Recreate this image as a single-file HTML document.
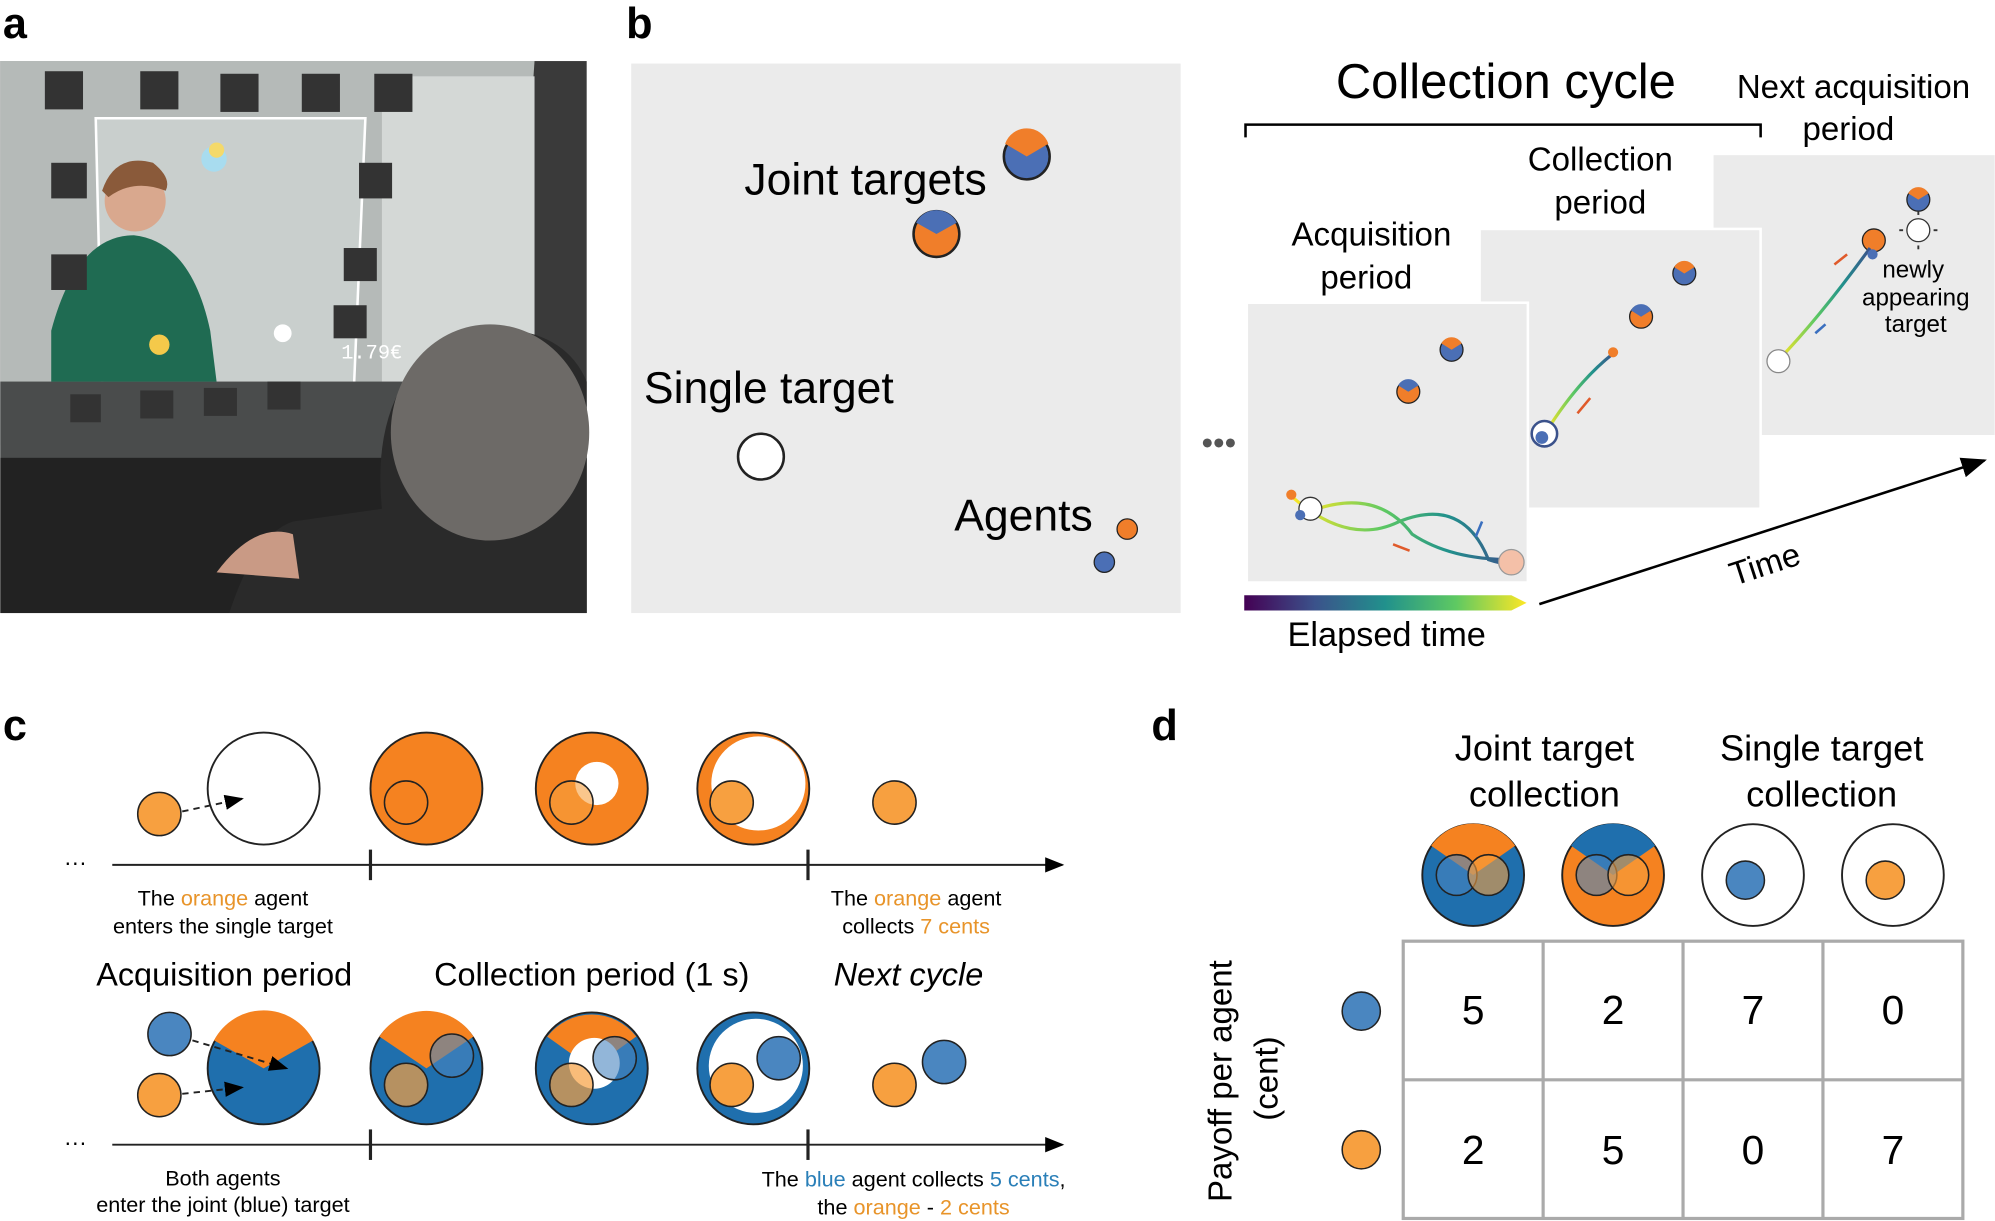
<!DOCTYPE html>
<html><head><meta charset="utf-8"><style>html,body{margin:0;padding:0;background:#fff}svg{display:block}</style></head><body>
<svg width="1995" height="1221" viewBox="0 0 1568 960" xmlns="http://www.w3.org/2000/svg" font-family="Liberation Sans, Arial, sans-serif">
<defs>
<linearGradient id="vir" x1="0" x2="1"><stop offset="0" stop-color="#440154"/><stop offset="0.25" stop-color="#3b528b"/><stop offset="0.5" stop-color="#21918c"/><stop offset="0.75" stop-color="#5ec962"/><stop offset="1" stop-color="#fde725"/></linearGradient>
<linearGradient id="trail" x1="0" x2="1"><stop offset="0" stop-color="#fde725"/><stop offset="0.4" stop-color="#5ec962"/><stop offset="0.7" stop-color="#21918c"/><stop offset="1" stop-color="#3b528b"/></linearGradient>
<marker id="ah" markerWidth="10" markerHeight="8" refX="9" refY="4" orient="auto"><path d="M0,0 L10,4 L0,8 z" fill="#000"/></marker>
</defs>
<g font-weight="bold" font-size="34"><text x="2" y="30">a</text><text x="492" y="30">b</text><text x="2" y="582">c</text><text x="905" y="582">d</text></g>

<!-- panel a photo approx -->
<rect x="0" y="48" width="461" height="434" fill="#3a3a3a"/>
<polygon points="0,48 420,48 400,340 0,350" fill="#b5bab8"/>
<rect x="300" y="60" width="120" height="280" fill="#d4d8d6"/>
<polygon points="75,93 287,93 278,305 80,305" fill="#c9cfcd" stroke="#fff" stroke-width="2"/>
<rect x="0" y="300" width="330" height="60" fill="#4a4c4c"/>
<path d="M40,260 Q60,185 105,185 Q150,190 165,260 L170,300 L40,300 z" fill="#1f6b52"/>
<circle cx="106" cy="158" r="24" fill="#d9a88e"/>
<path d="M80,150 Q90,120 120,128 Q135,140 130,150 Q105,140 85,155z" fill="#8a5a3a"/>
<rect x="0" y="360" width="461" height="122" fill="#222"/>
<path d="M180,482 Q200,420 230,410 L300,400 Q290,300 360,260 Q440,250 461,300 L461,482 z" fill="#2a2a2a"/>
<ellipse cx="385" cy="340" rx="78" ry="85" fill="#6d6a67"/>
<path d="M170,450 Q200,410 230,420 L235,455 Z" fill="#c99a85"/>
<circle cx="168" cy="125" r="10" fill="#a8dcef"/><circle cx="170" cy="118" r="6" fill="#f4d96a"/>
<circle cx="125" cy="271" r="8" fill="#f4c94a"/><circle cx="222" cy="262" r="7" fill="#fff"/>
<text x="268" y="282" font-family="Liberation Mono, monospace" font-size="16" fill="#fff">1.79€</text>
<g fill="#333"><rect x="35" y="56" width="30" height="30"/><rect x="110" y="56" width="30" height="30"/><rect x="173" y="58" width="30" height="30"/><rect x="237" y="58" width="30" height="30"/><rect x="294" y="58" width="30" height="30"/><rect x="40" y="128" width="28" height="28"/><rect x="40" y="200" width="28" height="28"/><rect x="282" y="128" width="26" height="28"/><rect x="270" y="195" width="26" height="26"/><rect x="262" y="240" width="26" height="26"/><rect x="55" y="310" width="24" height="22"/><rect x="110" y="307" width="26" height="22"/><rect x="160" y="305" width="26" height="22"/><rect x="210" y="300" width="26" height="22"/></g>

<!-- panel b left -->
<rect x="496" y="50" width="432" height="432" fill="#ebebeb"/>
<g font-size="35"><text x="585" y="153">Joint targets</text><text x="506" y="317">Single target</text><text x="750" y="417">Agents</text></g>
<circle cx="807" cy="123" r="18" fill="#4b6fb5" stroke="#222" stroke-width="2"/><path d="M790,113 L807,123 L824,113 A18,18 0 0 0 790,113z" fill="#f07e2a"/>
<circle cx="736" cy="184" r="18" fill="#f07e2a" stroke="#222" stroke-width="2"/><path d="M720,175 L736,184 L752,175 A18,18 0 0 0 720,175z" fill="#4b6fb5"/>
<circle cx="598" cy="359" r="18" fill="#fff" stroke="#222" stroke-width="2"/>
<circle cx="886" cy="416" r="8" fill="#f07e2a" stroke="#222" stroke-width="1"/><circle cx="868" cy="442" r="8" fill="#4b6fb5" stroke="#222" stroke-width="1"/>

<!-- panel b right -->
<text x="1050" y="77" font-size="38.5">Collection cycle</text>
<path d="M979,108 V98 H1384 V108" fill="none" stroke="#000" stroke-width="2"/>
<text x="1457" y="77" font-size="26" text-anchor="middle">Next acquisition</text><text x="1453" y="110" font-size="26" text-anchor="middle">period</text>
<text x="1258" y="134" font-size="26" text-anchor="middle">Collection</text><text x="1258" y="168" font-size="26" text-anchor="middle">period</text>
<text x="1078" y="193" font-size="26" text-anchor="middle">Acquisition</text><text x="1074" y="227" font-size="26" text-anchor="middle">period</text>
<text x="958" y="357" font-size="26" text-anchor="middle" fill="#555">•••</text>
<rect x="1347" y="122" width="221" height="220" fill="#ebebeb"/>
<rect x="1163" y="180" width="221" height="220" fill="#ebebeb" stroke="#fff" stroke-width="2"/>
<rect x="980" y="238" width="221" height="220" fill="#ebebeb" stroke="#fff" stroke-width="2"/>
<circle cx="1141" cy="275" r="9" fill="#4b6fb5" stroke="#222"/><path d="M1133,270 L1141,275 L1149,270 A9,9 0 0 0 1133,270z" fill="#f07e2a"/>
<circle cx="1107" cy="308" r="9" fill="#f07e2a" stroke="#222"/><path d="M1099,303 L1107,308 L1115,303 A9,9 0 0 0 1099,303z" fill="#4b6fb5"/>
<path d="M1015,390 Q1060,430 1100,410 Q1150,390 1170,440 Q1185,445 1190,442" fill="none" stroke="url(#trail)" stroke-width="2.5"/>
<path d="M1022,405 Q1080,380 1110,420 Q1140,440 1188,440" fill="none" stroke="url(#trail)" stroke-width="2.5"/>
<circle cx="1188" cy="442" r="10" fill="#f4c0a8" stroke="#999"/>
<circle cx="1030" cy="400" r="9" fill="#fff" stroke="#333"/>
<circle cx="1015" cy="389" r="4" fill="#f07e2a"/><circle cx="1022" cy="405" r="4" fill="#4b6fb5"/>
<path d="M1108,433 L1095,428" stroke="#e05a2a" stroke-width="2"/><path d="M1160,422 L1165,410" stroke="#3a6fbf" stroke-width="2"/>
<circle cx="1324" cy="215" r="9" fill="#4b6fb5" stroke="#222"/><path d="M1316,210 L1324,215 L1332,210 A9,9 0 0 0 1316,210z" fill="#f07e2a"/>
<circle cx="1290" cy="249" r="9" fill="#f07e2a" stroke="#222"/><path d="M1282,244 L1290,249 L1298,244 A9,9 0 0 0 1282,244z" fill="#4b6fb5"/>
<path d="M1215,340 Q1240,300 1268,278" fill="none" stroke="url(#trail)" stroke-width="2.5"/>
<circle cx="1268" cy="277" r="4" fill="#f07e2a"/>
<circle cx="1214" cy="341" r="10" fill="#fff" stroke="#3b528b" stroke-width="2"/><circle cx="1212" cy="344" r="5" fill="#4b6fb5"/>
<path d="M1240,325 L1250,313" stroke="#e05a2a" stroke-width="2"/>
<circle cx="1508" cy="157" r="9" fill="#4b6fb5" stroke="#222"/><path d="M1500,152 L1508,157 L1516,152 A9,9 0 0 0 1500,152z" fill="#f07e2a"/>
<circle cx="1508" cy="181" r="9" fill="#fff" stroke="#333"/>
<g stroke="#333" stroke-width="1.5"><line x1="1508" y1="166" x2="1508" y2="169"/><line x1="1508" y1="193" x2="1508" y2="196"/><line x1="1493" y1="181" x2="1496" y2="181"/><line x1="1520" y1="181" x2="1523" y2="181"/></g>
<circle cx="1473" cy="189" r="9" fill="#f07e2a" stroke="#222"/>
<path d="M1398,283 Q1430,250 1470,195" fill="none" stroke="url(#trail)" stroke-width="2.5"/>
<circle cx="1398" cy="284" r="9" fill="#fff" stroke="#888"/><circle cx="1472" cy="200" r="4" fill="#4b6fb5"/>
<path d="M1442,208 L1452,200" stroke="#e05a2a" stroke-width="2"/><path d="M1427,262 L1435,255" stroke="#3a6fbf" stroke-width="2"/>
<g font-size="19" text-anchor="middle"><text x="1504" y="218">newly</text><text x="1506" y="240">appearing</text><text x="1506" y="261">target</text></g>
<polygon points="978,468 1188,468 1200,474 1188,480 978,480" fill="url(#vir)"/>
<text x="1090" y="508" font-size="27" text-anchor="middle">Elapsed time</text>
<line x1="1210" y1="475" x2="1560" y2="362" stroke="#000" stroke-width="2" marker-end="url(#ah)"/>
<text x="1390" y="452" font-size="26" transform="rotate(-18 1390 452)" text-anchor="middle">Time</text>

<!-- panel c -->
<g stroke="#222" stroke-width="1.5">
<line x1="88" y1="680" x2="835" y2="680" marker-end="url(#ah)"/><line x1="88" y1="900" x2="835" y2="900" marker-end="url(#ah)"/>
<line x1="291" y1="668" x2="291" y2="692" stroke-width="2.5"/><line x1="635" y1="668" x2="635" y2="692" stroke-width="2.5"/>
<line x1="291" y1="888" x2="291" y2="912" stroke-width="2.5"/><line x1="635" y1="888" x2="635" y2="912" stroke-width="2.5"/>
</g>
<text x="50" y="684" font-size="18">···</text><text x="50" y="904" font-size="18">···</text>
<circle cx="207" cy="620" r="44" fill="#fff" stroke="#222" stroke-width="1.5"/>
<circle cx="125" cy="640" r="17" fill="#f7a040" stroke="#222" stroke-width="1.2"/>
<line x1="143" y1="638" x2="190" y2="628" stroke="#222" stroke-width="1.5" stroke-dasharray="5,4" marker-end="url(#ah)"/>
<circle cx="335" cy="620" r="44" fill="#f58220" stroke="#222" stroke-width="1.5"/><circle cx="319" cy="631" r="17" fill="none" stroke="#222" stroke-width="1.2"/>
<circle cx="465" cy="620" r="44" fill="#f58220" stroke="#222" stroke-width="1.5"/><circle cx="469" cy="616" r="17" fill="#fff"/><circle cx="449" cy="631" r="17" fill="#f7a040" fill-opacity="0.6" stroke="#222" stroke-width="1.2"/>
<circle cx="592" cy="620" r="44" fill="#f58220" stroke="#222" stroke-width="1.5"/><circle cx="596" cy="616" r="37" fill="#fff"/><circle cx="575" cy="631" r="17" fill="#f7a040" stroke="#222" stroke-width="1.2"/>
<circle cx="703" cy="631" r="17" fill="#f7a040" stroke="#222" stroke-width="1.2"/>
<g font-size="17" text-anchor="middle"><text x="175" y="712">The <tspan fill="#e8942a">orange</tspan> agent</text><text x="175" y="734">enters the single target</text>
<text x="720" y="712">The <tspan fill="#e8942a">orange</tspan> agent</text><text x="720" y="734">collects <tspan fill="#e8942a">7 cents</tspan></text></g>
<g font-size="25.5" text-anchor="middle"><text x="176" y="775">Acquisition period</text><text x="465" y="775">Collection period (1 s)</text><text x="714" y="775" font-style="italic">Next cycle</text></g>
<circle cx="207" cy="840" r="44" fill="#1f6fad" stroke="#222" stroke-width="1.5"/><path d="M207,840 L168,818 A44,44 0 0 1 246,818 z" fill="#f58220"/>
<circle cx="133" cy="813" r="17" fill="#4a86c0" stroke="#222" stroke-width="1.2"/><circle cx="125" cy="861" r="17" fill="#f7a040" stroke="#222" stroke-width="1.2"/>
<line x1="151" y1="818" x2="225" y2="840" stroke="#222" stroke-width="1.5" stroke-dasharray="5,4" marker-end="url(#ah)"/>
<line x1="143" y1="860" x2="190" y2="855" stroke="#222" stroke-width="1.5" stroke-dasharray="5,4" marker-end="url(#ah)"/>
<circle cx="335" cy="840" r="44" fill="#1f6fad" stroke="#222" stroke-width="1.5"/><path d="M335,840 L298,815 A44,44 0 0 1 372,815 z" fill="#f58220"/>
<circle cx="355" cy="830" r="17" fill="#4a86c0" fill-opacity="0.6" stroke="#222" stroke-width="1.2"/><circle cx="319" cy="853" r="17" fill="#f7a040" fill-opacity="0.7" stroke="#222" stroke-width="1.2"/>
<circle cx="465" cy="840" r="44" fill="#1f6fad" stroke="#222" stroke-width="1.5"/><path d="M465,840 L430,815 A44,44 0 0 1 500,815 z" fill="#f58220"/><circle cx="467" cy="836" r="20" fill="#fff"/>
<circle cx="483" cy="832" r="17" fill="#4a86c0" fill-opacity="0.6" stroke="#222" stroke-width="1.2"/><circle cx="449" cy="853" r="17" fill="#f7a040" fill-opacity="0.7" stroke="#222" stroke-width="1.2"/>
<circle cx="592" cy="840" r="44" fill="#1f6fad" stroke="#222" stroke-width="1.5"/><circle cx="594" cy="838" r="37" fill="#fff"/>
<circle cx="612" cy="832" r="17" fill="#4a86c0" stroke="#222" stroke-width="1.2"/><circle cx="575" cy="853" r="17" fill="#f7a040" stroke="#222" stroke-width="1.2"/>
<circle cx="742" cy="835" r="17" fill="#4a86c0" stroke="#222" stroke-width="1.2"/><circle cx="703" cy="853" r="17" fill="#f7a040" stroke="#222" stroke-width="1.2"/>
<g font-size="17" text-anchor="middle"><text x="175" y="932">Both agents</text><text x="175" y="953">enter the joint (blue) target</text>
<text x="718" y="933">The <tspan fill="#2a7fb8">blue</tspan> agent collects <tspan fill="#2a7fb8">5 cents</tspan>,</text><text x="718" y="955">the <tspan fill="#e8942a">orange</tspan> - <tspan fill="#e8942a">2 cents</tspan></text></g>

<!-- panel d -->
<g font-size="28.5" text-anchor="middle"><text x="1214" y="598">Joint target</text><text x="1214" y="634">collection</text><text x="1432" y="598">Single target</text><text x="1432" y="634">collection</text></g>
<circle cx="1158" cy="688" r="40" fill="#1f6fad" stroke="#222" stroke-width="1.5"/><path d="M1158,688 L1125,665 A40,40 0 0 1 1191,665 z" fill="#f58220"/>
<circle cx="1145" cy="688" r="16" fill="#4a86c0" fill-opacity="0.6" stroke="#222" stroke-width="1.2"/><circle cx="1170" cy="688" r="16" fill="#f7a040" fill-opacity="0.6" stroke="#222" stroke-width="1.2"/>
<circle cx="1268" cy="688" r="40" fill="#f58220" stroke="#222" stroke-width="1.5"/><path d="M1268,688 L1235,665 A40,40 0 0 1 1301,665 z" fill="#1f6fad"/>
<circle cx="1255" cy="688" r="16" fill="#4a86c0" fill-opacity="0.6" stroke="#222" stroke-width="1.2"/><circle cx="1280" cy="688" r="16" fill="#f7a040" fill-opacity="0.6" stroke="#222" stroke-width="1.2"/>
<circle cx="1378" cy="688" r="40" fill="#fff" stroke="#222" stroke-width="1.5"/><circle cx="1372" cy="692" r="15" fill="#4a86c0" stroke="#222" stroke-width="1.2"/>
<circle cx="1488" cy="688" r="40" fill="#fff" stroke="#222" stroke-width="1.5"/><circle cx="1482" cy="692" r="15" fill="#f7a040" stroke="#222" stroke-width="1.2"/>
<g fill="none" stroke="#aaa" stroke-width="2.5"><rect x="1103" y="740" width="440" height="218"/><line x1="1213" y1="740" x2="1213" y2="958"/><line x1="1323" y1="740" x2="1323" y2="958"/><line x1="1433" y1="740" x2="1433" y2="958"/><line x1="1103" y1="849" x2="1543" y2="849"/></g>
<g font-size="32" text-anchor="middle"><text x="1158" y="805">5</text><text x="1268" y="805">2</text><text x="1378" y="805">7</text><text x="1488" y="805">0</text>
<text x="1158" y="915">2</text><text x="1268" y="915">5</text><text x="1378" y="915">0</text><text x="1488" y="915">7</text></g>
<circle cx="1070" cy="795" r="15" fill="#4a86c0" stroke="#222" stroke-width="1.2"/><circle cx="1070" cy="904" r="15" fill="#f7a040" stroke="#222" stroke-width="1.2"/>
<g font-size="26" text-anchor="middle"><text transform="translate(968 850) rotate(-90)">Payoff per agent</text><text transform="translate(1004 848) rotate(-90)">(cent)</text></g>
</svg>
</body></html>
